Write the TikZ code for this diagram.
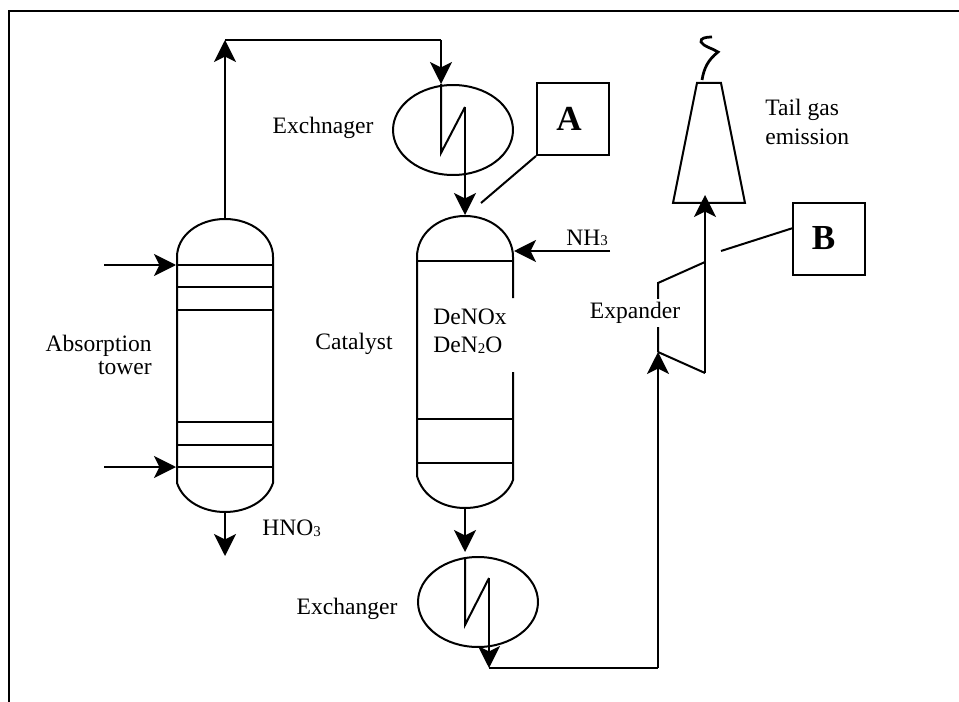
\documentclass[tikz,border=0pt]{standalone}
\usepackage{fontspec}
\setmainfont{Liberation Serif}
\usetikzlibrary{positioning,shapes,arrows.meta}
\newcommand{\lowdig}[1]{\raisebox{-0.4pt}{\fontsize{8.5}{8.5}\selectfont #1}}
\tikzset{
  line/.style={line width=0.4mm,line join=miter},
  flow/.style={line,-{Stealth[length=4.4mm,width=4.4mm,inset=1.1mm]}},
  exch/.style={draw,line,shape=ellipse,minimum width=2.4cm,minimum height=1.8cm,inner sep=0pt},
  tagbox/.style={draw,line,shape=rectangle,minimum width=1.44cm,minimum height=1.44cm,inner sep=0pt,font=\fontsize{20}{24}\selectfont\bfseries},
  lbl/.style={inner sep=0pt,font=\fontsize{13.4}{16}\selectfont}
}
\begin{document}
\begin{tikzpicture}[x=0.02cm,y=-0.02cm]%[scale=2.5]
\useasboundingbox (0,0) rectangle (959,702);
\draw[line] (9,702) -- (9,11) -- (959,11);

% towers
\draw[line] (177,257) .. controls (177,236) and (198,219) .. (225,219) .. controls (252,219) and (273,236) .. (273,257)
  (273,257) -- (273,483) .. controls (267,501) and (247,512) .. (225,512) .. controls (203,512) and (183,501) .. (177,483) -- (177,257);
\foreach \y in {265,287,310,422,445,467} \draw[line] (177,\y) -- (273,\y);

\draw[line] (417,257) .. controls (417,234) and (438,216) .. (465,216) .. controls (492,216) and (513,234) .. (513,257)
  (513,257) -- (513,298)
  (513,372) -- (513,480) .. controls (507,497) and (487,508) .. (465,508) .. controls (443,508) and (423,497) .. (417,476) -- (417,257);
\foreach \y in {261,419,463} \draw[line] (417,\y) -- (513,\y);

\draw node (ex1) at (453,130) [exch]{};
\draw node (ex2) at (478,602) [exch]{};
\draw node (boxA) at (573,119) [tagbox]{\hbox{\raisebox{0.2mm}{A}\kern1.6mm}};
\draw node (boxB) at (829,239) [tagbox]{\hbox{\raisebox{0.4mm}{B}\kern2.2mm}};

% stream points
\coordinate (t1top) at (225,219);
\coordinate (t1up) at (225,40);
\coordinate (ex1up) at (441,40);
\coordinate (ex1in) at (441,84);
\coordinate (ex1low) at (441,153);
\coordinate (ex1high) at (465,107);
\coordinate (ex1out) at (465,215);
\coordinate (t1a) at (104,265);
\coordinate (t1b) at (176,265);
\coordinate (t1c) at (104,467);
\coordinate (t1d) at (176,467);
\coordinate (t1bot) at (225,512);
\coordinate (t1out) at (225,556);
\coordinate (nh3a) at (610,251);
\coordinate (nh3b) at (514,251);
\coordinate (t2bot) at (465,508);
\coordinate (ex2in) at (465,552);
\coordinate (ex2top) at (465,557);
\coordinate (ex2low) at (465,625);
\coordinate (ex2high) at (489,578);
\coordinate (ex2out) at (489,668);
\coordinate (expin) at (658,668);
\coordinate (expa) at (658,352);
\coordinate (expb) at (705,373);
\coordinate (expc) at (705,195);
\coordinate (expd) at (705,262);
\coordinate (expe) at (658,283);
\coordinate (tagA) at (481,203);
\coordinate (tagB) at (721,251);

\draw[flow] (t1top) -- (t1up);
\draw[line] (t1up) -- (ex1up);
\draw[flow] (ex1up) -- (ex1in);
\draw[line] (ex1in) -- (ex1low) -- (ex1high);
\draw[flow] (ex1high) -- (ex1out);
\draw[flow] (t1a) -- (t1b);
\draw[flow] (t1c) -- (t1d);
\draw[flow] (t1bot) -- (t1out);
\draw[flow] (nh3a) -- (nh3b);
\draw[flow] (t2bot) -- (ex2in);
\draw[line] (ex2top) -- (ex2low) -- (ex2high);
\draw[flow] (ex2high) -- (ex2out);
\draw[line] (ex2out) -- (expin);
\draw[flow] (expin) -- (expa);
\draw[line] (expa) -- (expb);
\draw[flow] (expb) -- (expc);
\draw[line] (expd) -- (expe) -- (expa);
\draw[line] (boxA.south west) -- (tagA);
\draw[line] (tagB) -- (793,228);

% stack
\draw[line] (697,83) -- (721,83) -- (745,203) -- (673,203) -- cycle;
\draw[line,line width=0.55mm] (702,80) .. controls (704,68) and (708,60) .. (718,52) .. controls (712,48) and (704,47) .. (701,42) .. controls (700,38) and (706,37) .. (712,37);

\draw node (absorb) at (152,355) [lbl,align=right,anchor=east]{Absorption\\[-3pt]tower};
\draw node (catal) at (354,344) [lbl]{Catalyst};
\draw node (denox) at (433,331) [lbl,align=left,anchor=west]{DeNOx\\DeN\lowdig{2}O};
\draw node (hno) at (262,528) [lbl,anchor=west]{HNO\lowdig{3}};
\draw node (nh) at (566,238) [lbl,anchor=west]{NH\lowdig{3}};
\draw node (exname) at (323,128) [lbl]{Exchnager};
\draw node (exname2) at (347,609) [lbl]{Exchanger};
\draw node (tail) at (765,122) [lbl,align=left,anchor=west]{Tail gas\\emission};
\draw node (expname) at (635,313) [lbl,fill=white,inner sep=2pt]{Expander};
\end{tikzpicture}
\end{document}
